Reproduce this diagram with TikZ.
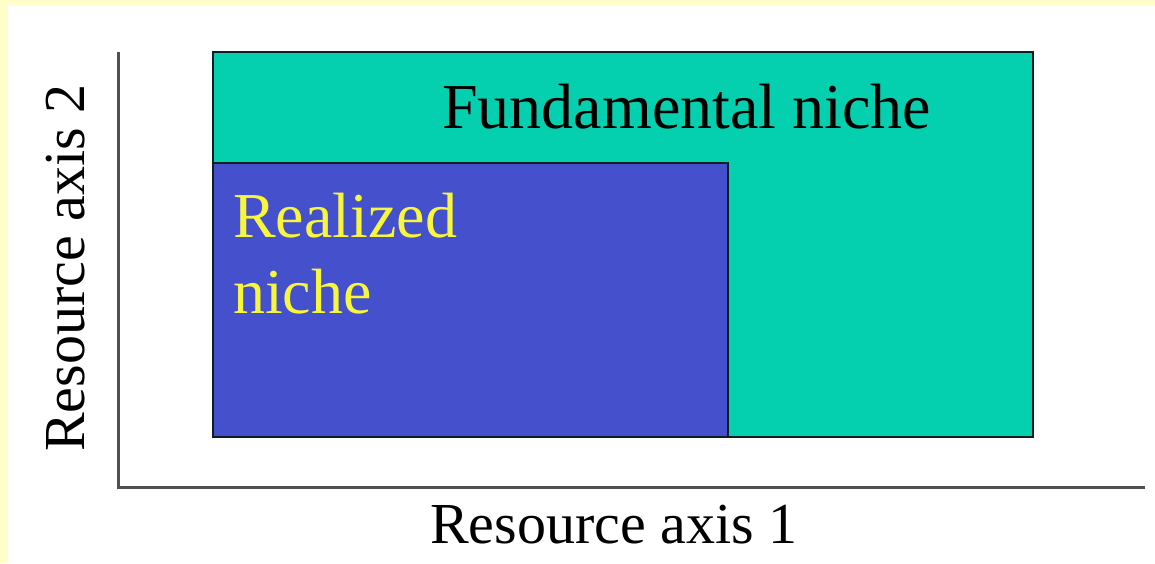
\documentclass[tikz,border=0pt]{standalone}
\usepackage{fontspec}
\setmainfont{Liberation Serif}
\usepackage{tikz}
\usetikzlibrary{positioning, calc}
\definecolor{slideyellow}   {RGB}{255, 253, 200}
\definecolor{nichegreen}    {RGB}{  4, 207, 174}
\definecolor{nicheblue}     {RGB}{ 68,  80, 204}
\definecolor{nicheyellow}   {RGB}{248, 246,  60}
\definecolor{axisgray}      {RGB}{ 80,  80,  80}
\definecolor{edgedark}      {RGB}{ 15,  30,  35}
\tikzset{
	nichebox/.style={draw=edgedark, line width=2.5pt},
	bigtext/.style={inner sep=0pt, font=\fontsize{64}{76}\selectfont},
	axistext/.style={inner sep=0pt, font=\fontsize{58}{70}\selectfont}
}

\begin{document}
\begin{tikzpicture}[x=1pt,y=-1pt]
				\useasboundingbox (0,0) rectangle (1155,563);
				\fill[slideyellow] (0,0) rectangle (1155,563);
				\fill[white] (8,6) rectangle (1155,563);
				% axes
				\coordinate (top) at (118,52);
				\coordinate (origin) at (118,487);
				\coordinate (right) at (1145,487);
				\draw[axisgray,line width=3pt] (top)--(origin)--(right);
				% niches
				\draw[nichebox,fill=nichegreen] (213,52) rectangle (1033,437);
				\draw[nichebox,fill=nicheblue] (213,163) rectangle (728,437);
				\node[bigtext,anchor=base west] (fund) at (442,128) {Fundamental niche};
				\node[bigtext,nicheyellow,anchor=base west] (real) at (233,237) {Realized};
				\node[bigtext,nicheyellow,anchor=base west] (realb) at (233,313) {niche};
				% labels
				\node[axistext,anchor=base west] (xlab) at (430,543) {Resource axis 1};
				\node[axistext,rotate=90,anchor=base west] (ylab) at (84,452) {Resource axis 2};
			\end{tikzpicture}
\end{document}
